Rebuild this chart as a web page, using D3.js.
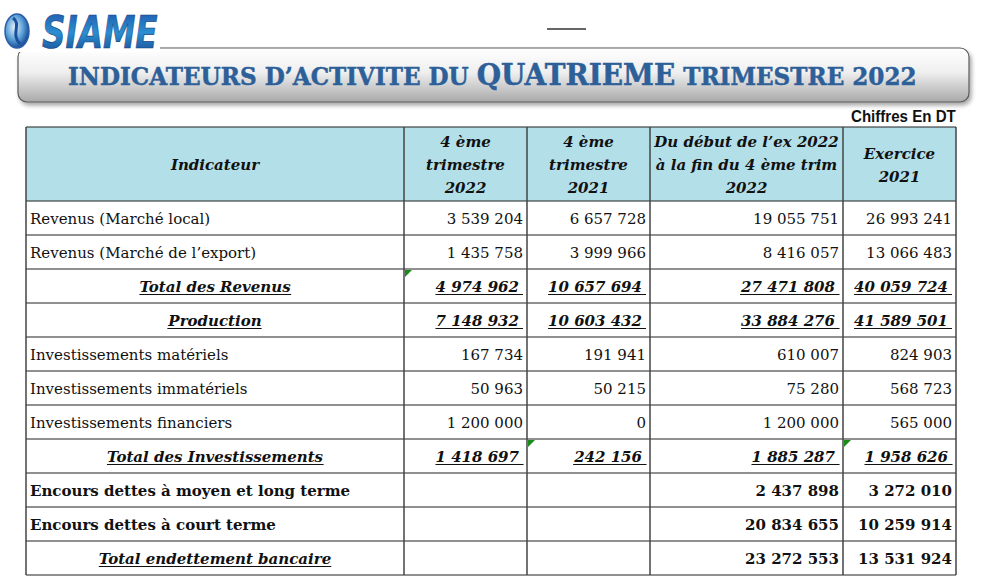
<!DOCTYPE html>
<html>
<head>
<meta charset="utf-8">
<script src="https://cdn.jsdelivr.net/npm/d3@7"></script>
<style>
  body { margin: 0; background: #fff; }
  svg { display: block; }
</style>
</head>
<body>
<div class="chart"></div>
<script>
// table content
const columns = ['Indicateur', '4 ème\ntrimestre\n2022', '4 ème\ntrimestre\n2021', 'Du début de l\u2019ex 2022\nà la fin du 4 ème trim\n2022', 'Exercice\n2021'];
const labels = [
  'Revenus (Marché local)',
  'Revenus (Marché de l\u2019export)',
  'Total des Revenus',
  'Production',
  'Investissements matériels',
  'Investissements immatériels',
  'Investissements financiers',
  'Total des Investissements',
  'Encours dettes à moyen et long terme',
  'Encours dettes à court terme',
  'Total endettement bancaire'
];
const q4_2022 = [3539204, 1435758, 4974962, 7148932, 167734, 50963, 1200000, 1418697, null, null, null];
const q4_2021 = [6657728, 3999966, 10657694, 10603432, 191941, 50215, 0, 242156, null, null, null];
const ytd2022 = [19055751, 8416057, 27471808, 33884276, 610007, 75280, 1200000, 1885287, 2437898, 20834655, 23272553];
const ex2021 = [26993241, 13066483, 40059724, 41589501, 824903, 568723, 565000, 1958626, 3272010, 10259914, 13531924];
// row kind: plain / total / bold / boldTotal
const rowKind = ['plain', 'plain', 'total', 'total', 'plain', 'plain', 'plain', 'total', 'bold', 'bold', 'boldTotal'];
// excel comment markers [row, col]
const markers = [[2, 1], [7, 2], [7, 4]];

const W = 1000, H = 584;
const colX = [26, 404, 527, 650, 843, 956];
const headTop = 127, headBottom = 201, tableBottom = 575;
const serif = '"DejaVu Serif", serif';

const fmt = v => d3.format(',')(v).replace(/,/g, ' ');
const series = [q4_2022, q4_2021, ytd2022, ex2021];

const svg = d3.select('.chart')
  .append('svg')
  .attr('width', W)
  .attr('height', H);

const defs = svg.append('defs');
const bannerGrad = defs.append('linearGradient').attr('id', 'bannerGrad')
  .attr('x1', 0).attr('y1', 0).attr('x2', 0).attr('y2', 1);
bannerGrad.append('stop').attr('offset', '0%').attr('stop-color', '#ffffff');
bannerGrad.append('stop').attr('offset', '45%').attr('stop-color', '#efefef');
bannerGrad.append('stop').attr('offset', '100%').attr('stop-color', '#a9a9a9');

const logoGrad = defs.append('linearGradient').attr('id', 'logoGrad')
  .attr('x1', 0).attr('y1', 0).attr('x2', 0).attr('y2', 1);
logoGrad.append('stop').attr('offset', '0%').attr('stop-color', '#1f4fa8');
logoGrad.append('stop').attr('offset', '50%').attr('stop-color', '#2a8fd0');
logoGrad.append('stop').attr('offset', '100%').attr('stop-color', '#173f8c');

const globeGrad = defs.append('radialGradient').attr('id', 'globeGrad')
  .attr('cx', '40%').attr('cy', '40%').attr('r', '60%');
globeGrad.append('stop').attr('offset', '0%').attr('stop-color', '#e6f3fb');
globeGrad.append('stop').attr('offset', '60%').attr('stop-color', '#5a9fd6');
globeGrad.append('stop').attr('offset', '100%').attr('stop-color', '#1c4f9a');

const shadow = defs.append('filter').attr('id', 'shadow')
  .attr('x', '-5%').attr('y', '-20%').attr('width', '110%').attr('height', '150%');
shadow.append('feDropShadow').attr('dx', 2).attr('dy', 3).attr('stdDeviation', 2)
  .attr('flood-color', '#000').attr('flood-opacity', 0.35);

// banner
svg.append('rect')
  .attr('x', 18).attr('y', 48).attr('width', 951).attr('height', 54)
  .attr('rx', 9)
  .attr('fill', 'url(#bannerGrad)')
  .attr('stroke', '#5a5a5a').attr('stroke-width', 1.2)
  .attr('filter', 'url(#shadow)');

// logo block (white background hides banner corner)
svg.append('rect').attr('x', 0).attr('y', 8).attr('width', 160).attr('height', 44).attr('fill', '#fff');
svg.append('ellipse').attr('cx', 17).attr('cy', 31).attr('rx', 12).attr('ry', 17)
  .attr('fill', 'url(#globeGrad)').attr('stroke', '#2a5fa8').attr('stroke-width', 1.5);
svg.append('path')
  .attr('d', 'M13,18 C22,24 10,34 20,44')
  .attr('fill', 'none').attr('stroke', '#1c4f9a').attr('stroke-width', 3);
const logo = svg.append('text')
  .attr('x', 42).attr('y', 48)
  .attr('font-family', '"DejaVu Sans Condensed", "DejaVu Sans", sans-serif')
  .attr('font-weight', 'bold').attr('font-style', 'italic')
  .attr('font-size', 45)
  .attr('fill', 'url(#logoGrad)')
  .attr('stroke', '#16407f').attr('stroke-width', 0.6)
  .text('SIAME');
const lb = logo.node().getBBox();
logo.attr('transform', `translate(42,0) scale(${116 / lb.width},1) translate(-42,0)`);

// small line at top
svg.append('line').attr('x1', 547).attr('x2', 586).attr('y1', 29).attr('y2', 29)
  .attr('stroke', '#666').attr('stroke-width', 2);

// title
const title = svg.append('text')
  .attr('x', 0).attr('y', 85)
  .attr('font-family', serif)
  .attr('font-weight', 'bold')
  .attr('fill', '#2d5f98')
  .attr('stroke', '#2d5f98').attr('stroke-width', 0.5);
title.append('tspan').attr('font-size', 24).text('INDICATEURS D\u2019ACTIVITE DU ');
title.append('tspan').attr('font-size', 29).text('QUATRIEME');
title.append('tspan').attr('font-size', 24).text(' TRIMESTRE 2022');
const tb = title.node().getBBox();
const tScale = 849 / tb.width;
title.attr('transform', `translate(68,0) scale(${tScale},1)`);

// units note
const unit = svg.append('text')
  .attr('x', 0).attr('y', 122)
  .attr('font-family', '"Liberation Sans Narrow", "Liberation Sans", sans-serif')
  .attr('font-size', 16)
  .attr('font-weight', 'bold')
  .attr('fill', '#111')
  .text('Chiffres En DT');
const ub = unit.node().getBBox();
unit.attr('transform', `translate(851,0) scale(${105 / ub.width},1)`);

// header
const head = svg.append('g');
head.append('rect')
  .attr('x', colX[0]).attr('y', headTop)
  .attr('width', colX[5] - colX[0]).attr('height', headBottom - headTop)
  .attr('fill', '#b3dfe9');

columns.forEach((c, i) => {
  const lines = c.split('\n');
  const cx = (colX[i] + colX[i + 1]) / 2;
  const mid = (headTop + headBottom) / 2;
  const t = head.append('text')
    .attr('text-anchor', 'middle')
    .attr('font-family', serif)
    .attr('font-weight', 'bold').attr('font-style', 'italic')
    .attr('font-size', 15)
    .attr('fill', '#111');
  lines.forEach((l, j) => {
    t.append('tspan')
      .attr('x', cx)
      .attr('y', mid + 6 + (j - (lines.length - 1) / 2) * 23)
      .text(l);
  });
});

// rows
const y = d3.scaleBand()
  .domain(d3.range(labels.length))
  .range([headBottom, tableBottom]);

const rows = svg.selectAll('g.row')
  .data(labels.map((l, i) => ({ label: l, kind: rowKind[i], vals: series.map(s => s[i]), i })))
  .enter()
  .append('g')
  .attr('class', 'row')
  .attr('transform', d => `translate(0,${y(d.i)})`);

const bh = y.bandwidth();

function underline(sel) {
  sel.each(function () {
    const b = this.getBBox();
    const anchor = this.getAttribute('text-anchor');
    const x1 = b.x, x2 = b.x + b.width + (anchor === 'end' ? 4 : 0);
    d3.select(this.parentNode).append('line')
      .attr('x1', x1).attr('x2', x2)
      .attr('y1', bh / 2 + 8.5).attr('y2', bh / 2 + 8.5)
      .attr('stroke', '#111').attr('stroke-width', 1.2);
  });
}

// labels
rows.append('text')
  .attr('x', d => (d.kind === 'total' || d.kind === 'boldTotal') ? (colX[0] + colX[1]) / 2 : colX[0] + 4)
  .attr('y', bh / 2 + 5.5)
  .attr('text-anchor', d => (d.kind === 'total' || d.kind === 'boldTotal') ? 'middle' : 'start')
  .attr('font-family', serif)
  .attr('font-size', 15)
  .attr('font-weight', d => d.kind === 'plain' ? 'normal' : 'bold')
  .attr('font-style', d => (d.kind === 'total' || d.kind === 'boldTotal') ? 'italic' : 'normal')
  .attr('fill', '#111')
  .text(d => d.label)
  .filter(d => d.kind === 'total' || d.kind === 'boldTotal')
  .call(underline);

// values
rows.each(function (d) {
  const g = d3.select(this);
  d.vals.forEach((v, k) => {
    if (v === null) return;
    const isTotal = d.kind === 'total';
    const t = g.append('text')
      .attr('x', colX[k + 2] - (isTotal ? 8 : 4))
      .attr('y', bh / 2 + 5.5)
      .attr('text-anchor', 'end')
      .attr('font-family', serif)
      .attr('font-size', 15)
      .attr('font-weight', d.kind === 'plain' ? 'normal' : 'bold')
      .attr('font-style', isTotal ? 'italic' : 'normal')
      .attr('fill', '#111')
      .text(fmt(v));
    if (isTotal) underline(t);
  });
});

// grid
const grid = svg.append('g');
d3.range(labels.length + 1).forEach(i => {
  const yy = i === labels.length ? tableBottom : y(i);
  grid.append('line')
    .attr('x1', colX[0]).attr('x2', colX[5])
    .attr('y1', yy).attr('y2', yy)
    .attr('stroke', '#222').attr('stroke-width', 1.2);
});
grid.append('line')
  .attr('x1', colX[0]).attr('x2', colX[5])
  .attr('y1', headTop).attr('y2', headTop)
  .attr('stroke', '#222').attr('stroke-width', 1.2);
colX.forEach(x => {
  grid.append('line')
    .attr('x1', x).attr('x2', x)
    .attr('y1', headTop).attr('y2', tableBottom)
    .attr('stroke', '#444').attr('stroke-width', 1.5);
});

// comment markers
markers.forEach(([r, c]) => {
  const x0 = colX[c] + 1, y0 = y(r) + 1;
  grid.append('path')
    .attr('d', `M${x0},${y0}L${x0 + 7},${y0}L${x0},${y0 + 7}Z`)
    .attr('fill', '#1a8a1a');
});
</script>
</body>
</html>
